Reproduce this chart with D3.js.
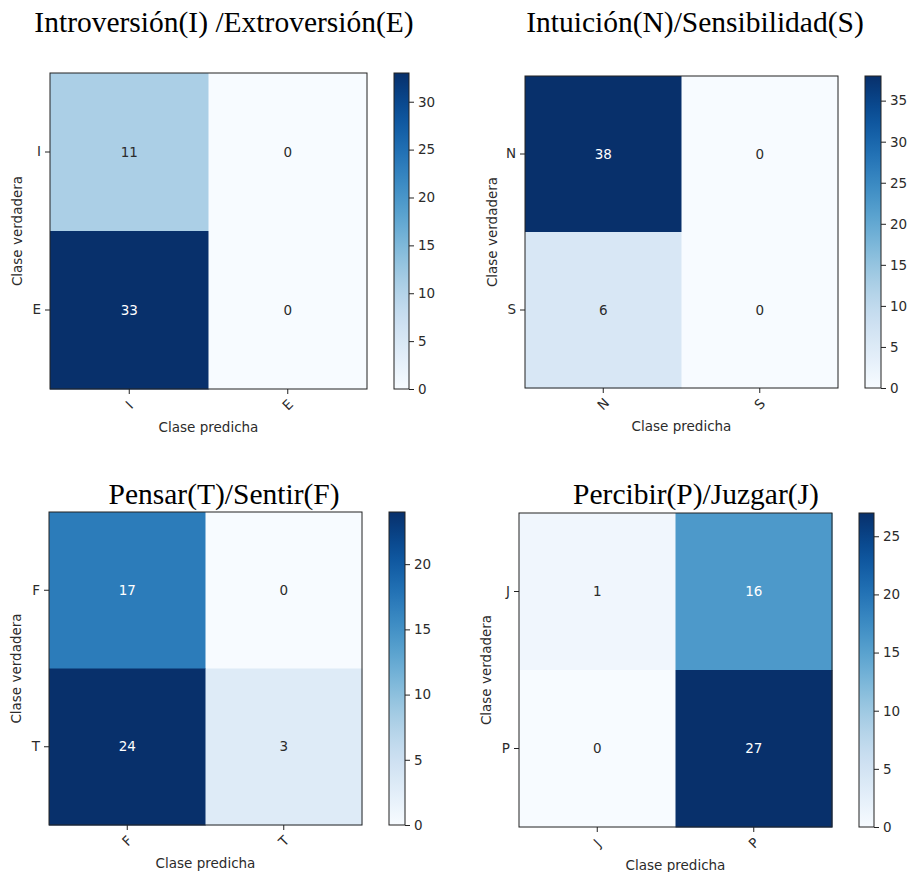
<!DOCTYPE html>
<html>
<head>
<meta charset="utf-8">
<script src="https://cdn.jsdelivr.net/npm/d3@7"></script>
<style>
  body { margin: 0; background: #fff; }
  .tick text, .lbl { font-family: "DejaVu Sans", sans-serif; fill: #2b2b2b; }
  .title { font-family: "Liberation Serif", "Times New Roman", serif; fill: #000; }
</style>
</head>
<body>
<div id="chart"></div>
<script>
// Chart data
const titles = [
    "Introversión(I) /Extroversión(E)",
    "Intuición(N)/Sensibilidad(S)",
    "Pensar(T)/Sentir(F)",
    "Percibir(P)/Juzgar(J)"
];
const classLabels = [["I", "E"], ["N", "S"], ["F", "T"], ["J", "P"]];
const matrices = [
    [[11, 0], [33, 0]],
    [[38, 0], [6, 0]],
    [[17, 0], [24, 3]],
    [[1, 16], [0, 27]]
];
const colorbarTicks = [
    [0, 5, 10, 15, 20, 25, 30],
    [0, 5, 10, 15, 20, 25, 30, 35],
    [0, 5, 10, 15, 20],
    [0, 5, 10, 15, 20, 25]
];
const xAxisLabel = "Clase predicha";
const yAxisLabel = "Clase verdadera";

// Panel layout (pixel positions of each subplot)
const layout = [
    { left: 50, top: 73, w: 317, h: 316, cbX: 394, cbW: 15, tx: 224, ty: 32 },
    { left: 525, top: 76, w: 313, h: 312, cbX: 865, cbW: 16, tx: 695, ty: 32 },
    { left: 49, top: 512, w: 313, h: 313, cbX: 389, cbW: 16, tx: 224, ty: 504 },
    { left: 519, top: 513, w: 313, h: 314, cbX: 859, cbW: 15, tx: 696, ty: 504 }
];

const fontSize = 13.5;
const frameColor = "#222";

const svg = d3.select("#chart")
    .append("svg")
    .attr("width", 907)
    .attr("height", 872);

const defs = svg.append("defs");

matrices.forEach((matrix, p) => {
    const L = layout[p];
    const labels = classLabels[p];
    const maxVal = d3.max(matrix.flat());

    const color = d3.scaleSequential(d3.interpolateBlues).domain([0, maxVal]);

    const x = d3.scaleBand().domain(labels).range([L.left, L.left + L.w]);
    const y = d3.scaleBand().domain(labels).range([L.top, L.top + L.h]);

    const g = svg.append("g");

    // Cells
    const cells = [];
    matrix.forEach((row, i) => row.forEach((v, j) => cells.push({ r: labels[i], c: labels[j], v })));

    g.selectAll(".cell")
        .data(cells)
        .enter()
        .append("rect")
        .attr("class", "cell")
        .attr("x", d => x(d.c))
        .attr("y", d => y(d.r))
        .attr("width", x.bandwidth() + 0.5)
        .attr("height", y.bandwidth() + 0.5)
        .attr("fill", d => color(d.v));

    // Cell annotations: white on dark cells
    g.selectAll(".val")
        .data(cells)
        .enter()
        .append("text")
        .attr("class", "lbl")
        .attr("x", d => x(d.c) + x.bandwidth() / 2)
        .attr("y", d => y(d.r) + y.bandwidth() / 2)
        .attr("dy", "0.35em")
        .attr("text-anchor", "middle")
        .style("font-size", fontSize + "px")
        .style("fill", d => d.v > maxVal / 2 ? "#fff" : "#2b2b2b")
        .text(d => d.v);

    // Frame
    g.append("rect")
        .attr("x", L.left)
        .attr("y", L.top)
        .attr("width", L.w)
        .attr("height", L.h)
        .attr("fill", "none")
        .attr("stroke", frameColor)
        .attr("stroke-width", 1);

    // Y axis
    const yAxis = g.append("g")
        .attr("transform", `translate(${L.left},0)`)
        .call(d3.axisLeft(y).tickSize(5).tickPadding(4));
    yAxis.select(".domain").remove();
    yAxis.selectAll("line").attr("stroke", frameColor);
    yAxis.selectAll("text").style("font-size", fontSize + "px");

    // X axis with rotated labels
    const xAxis = g.append("g")
        .attr("transform", `translate(0,${L.top + L.h})`)
        .call(d3.axisBottom(x).tickSize(5).tickPadding(4));
    xAxis.select(".domain").remove();
    xAxis.selectAll("line").attr("stroke", frameColor);
    xAxis.selectAll("text")
        .style("font-size", fontSize + "px")
        .attr("y", 0)
        .attr("dy", "0.35em")
        .attr("text-anchor", "middle")
        .attr("transform", "translate(0,16) rotate(-45)");

    // Axis titles
    g.append("text")
        .attr("class", "lbl")
        .attr("x", L.left + L.w / 2)
        .attr("y", L.top + L.h + 38)
        .attr("dy", "0.35em")
        .attr("text-anchor", "middle")
        .style("font-size", fontSize + "px")
        .text(xAxisLabel);

    g.append("text")
        .attr("class", "lbl")
        .attr("transform", `translate(${L.left - 33},${L.top + L.h / 2}) rotate(-90)`)
        .attr("dy", "0.35em")
        .attr("text-anchor", "middle")
        .style("font-size", fontSize + "px")
        .text(yAxisLabel);

    // Panel title
    g.append("text")
        .attr("class", "title")
        .attr("x", L.tx)
        .attr("y", L.ty)
        .attr("text-anchor", "middle")
        .style("font-size", "29.5px")
        .text(titles[p]);

    // Colorbar
    const gradId = "grad" + p;
    const grad = defs.append("linearGradient")
        .attr("id", gradId)
        .attr("x1", 0).attr("y1", 1)
        .attr("x2", 0).attr("y2", 0);
    d3.range(0, 1.0001, 0.05).forEach(t => {
        grad.append("stop")
            .attr("offset", t)
            .attr("stop-color", color(t * maxVal));
    });

    const cbScale = d3.scaleLinear().domain([0, maxVal]).range([L.top + L.h, L.top]);

    g.append("rect")
        .attr("x", L.cbX)
        .attr("y", L.top)
        .attr("width", L.cbW)
        .attr("height", L.h)
        .attr("fill", `url(#${gradId})`)
        .attr("stroke", frameColor)
        .attr("stroke-width", 1);

    const cbAxis = g.append("g")
        .attr("transform", `translate(${L.cbX + L.cbW},0)`)
        .call(d3.axisRight(cbScale).tickValues(colorbarTicks[p]).tickSize(5).tickPadding(4));
    cbAxis.select(".domain").remove();
    cbAxis.selectAll("line").attr("stroke", frameColor);
    cbAxis.selectAll("text").style("font-size", fontSize + "px");
});
</script>
</body>
</html>
